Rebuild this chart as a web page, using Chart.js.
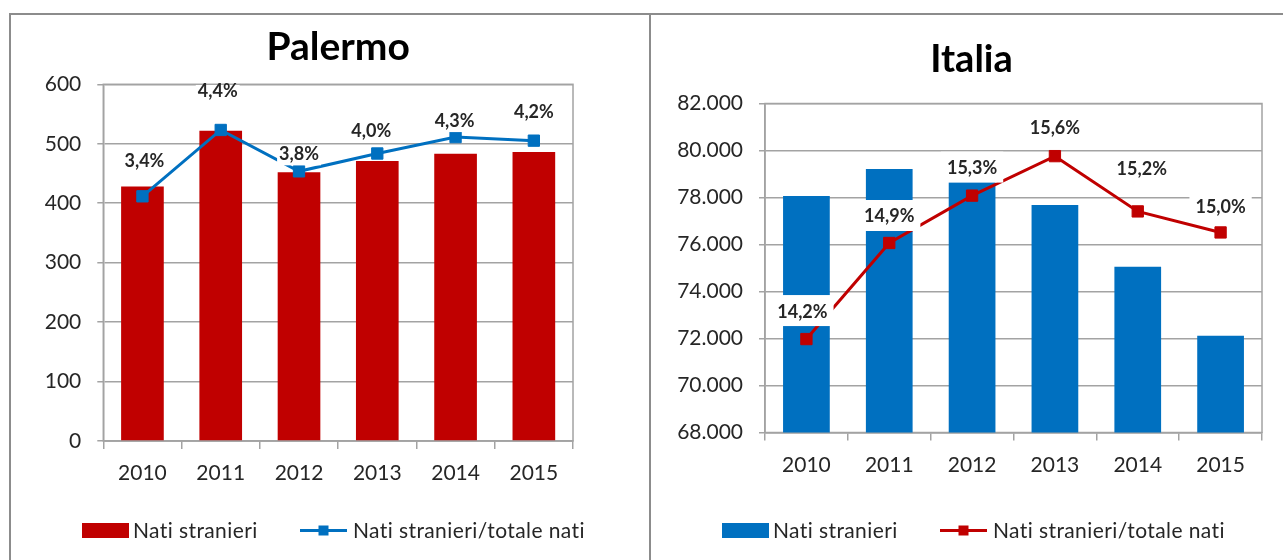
<!DOCTYPE html>
<html><head><meta charset="utf-8">
<script src="https://cdn.jsdelivr.net/npm/chart.js@4/dist/chart.umd.min.js"></script>
<style>
html,body{margin:0;padding:0;background:#fff;overflow:hidden;width:1283px;height:560px;}
.panel{position:absolute;box-sizing:border-box;border:2px solid #8c8c8c;border-bottom:none;}
canvas{position:absolute;}
</style></head><body>
<div class="panel" style="left:9px;top:13px;width:642px;height:600px;"></div>
<div class="panel" style="left:649px;top:13px;width:700px;height:600px;"></div>
<canvas id="cPal" width="652" height="544" style="left:11px;top:16px;width:652px;height:544px"></canvas>
<canvas id="cIta" width="641" height="544" style="left:651px;top:16px;width:641px;height:544px"></canvas>
<script>
// ---- data ----
const years = ['2010', '2011', '2012', '2013', '2014', '2015'];
const palermoBirths = [428, 522, 452, 471, 483, 486];
const palermoShare = [3.43, 4.36, 3.78, 4.03, 4.26, 4.21];
const italiaBirths = [78064, 79213, 78672, 77681, 75055, 72119];
const italiaShare = [14.21, 14.94, 15.30, 15.60, 15.18, 15.02];
const palermoTicks = [0, 100, 200, 300, 400, 500, 600];
const italiaTicks = [68000, 70000, 72000, 74000, 76000, 78000, 80000, 82000];
const seriesNames = ['Nati stranieri', 'Nati stranieri/totale nati'];

// ---- style ----
const FONT = 'Lato, "Open Sans", sans-serif';
const GRID = '#a3a3a3';
const TXT = '#262626';
const RED = '#C00000';
const BLUE = '#0070C0';
Chart.defaults.font.family = FONT;

const fmtPct = v => v.toFixed(1).replace('.', ',') + '%';
const fmtThousands = v => String(v).replace(/\B(?=(\d{3})+(?!\d))/g, '.');

const plotBorder = {
  id: 'plotBorder',
  beforeDatasetsDraw(chart) {
    const a = chart.chartArea, ctx = chart.ctx;
    ctx.save();
    ctx.strokeStyle = GRID; ctx.lineWidth = 1.5;
    ctx.strokeRect(a.left, a.top, a.right - a.left, a.bottom - a.top);
    ctx.restore();
  }
};

const pointLabels = {
  id: 'pointLabels',
  afterDatasetsDraw(chart, args, o) {
    const meta = chart.getDatasetMeta(o.datasetIndex);
    const ds = chart.data.datasets[o.datasetIndex];
    const ctx = chart.ctx;
    ctx.save();
    ctx.font = 'bold ' + o.size + 'px ' + FONT;
    ctx.textAlign = 'center';
    ctx.textBaseline = 'alphabetic';
    meta.data.forEach((pt, i) => {
      const txt = fmtPct(ds.data[i]);
      const cx = pt.x + o.offsets[i][0];
      const cy = pt.y + o.offsets[i][1];
      const w = ctx.measureText(txt).width;
      ctx.fillStyle = '#fff';
      ctx.fillRect(cx - w / 2 - o.padX, cy - o.boxUp, w + 2 * o.padX, o.boxUp + o.boxDown);
      ctx.fillStyle = TXT;
      ctx.fillText(txt, cx, cy + o.size * 0.36);
    });
    ctx.restore();
  }
};

const excelLegend = {
  id: 'excelLegend',
  afterDraw(chart, args, o) {
    const ctx = chart.ctx;
    const barDs = chart.data.datasets[0], lineDs = chart.data.datasets[1];
    ctx.save();
    ctx.font = o.size + 'px ' + FONT;
    ctx.letterSpacing = '0.4px';
    ctx.textAlign = 'left';
    ctx.textBaseline = 'alphabetic';
    const x0 = o.x, cy = o.y;
    ctx.fillStyle = barDs.backgroundColor;
    ctx.fillRect(x0, cy - 7.5, 47, 15);
    ctx.fillStyle = TXT;
    ctx.fillText(barDs.label, x0 + 51, cy + o.size * 0.36);
    const x = x0 + o.second;
    ctx.strokeStyle = lineDs.borderColor; ctx.lineWidth = 3;
    ctx.beginPath(); ctx.moveTo(x, cy); ctx.lineTo(x + 47, cy); ctx.stroke();
    ctx.fillStyle = lineDs.pointBackgroundColor;
    ctx.fillRect(x + 23.5 - 5, cy - 5, 10, 10);
    ctx.fillStyle = TXT;
    ctx.fillText(lineDs.label, x + 53, cy + o.size * 0.36);
    ctx.restore();
  }
};

function makeChart(id, cfg) {
  return new Chart(document.getElementById(id), {
    data: {
      labels: years,
      datasets: [
        { type: 'bar', label: seriesNames[0], data: cfg.bars, backgroundColor: cfg.barColor,
          borderWidth: 0, yAxisID: 'y', order: 2, barPercentage: cfg.barPct, categoryPercentage: 1 },
        { type: 'line', label: seriesNames[1], data: cfg.share, borderColor: cfg.lineColor,
          backgroundColor: cfg.lineColor, pointBackgroundColor: cfg.lineColor, pointBorderColor: cfg.lineColor,
          pointStyle: 'rect', pointRadius: 8, pointBorderWidth: 1, borderWidth: 3, tension: 0,
          yAxisID: 'y1', order: 1 }
      ]
    },
    options: {
      responsive: false, animation: false, events: [], devicePixelRatio: 1,
      layout: { padding: cfg.padding },
      plugins: {
        legend: { display: false }, tooltip: { enabled: false },
        title: { display: true, text: cfg.title, color: '#000', fullSize: cfg.titleFull,
          font: { family: FONT, size: cfg.titleSize, weight: 'bold' }, padding: cfg.titlePad },
        pointLabels: { datasetIndex: 1, size: 18, offsets: cfg.labelOffsets, padX: cfg.labelPadX,
          boxUp: cfg.boxUp, boxDown: cfg.boxDown },
        excelLegend: { x: 71, y: cfg.legendY, size: 21, second: 218 }
      },
      scales: {
        x: {
          offset: true,
          grid: { offset: true, drawOnChartArea: false, drawTicks: true, tickLength: 8, color: GRID, lineWidth: 1.5 },
          border: { display: true, color: GRID, width: 1.5 },
          ticks: { color: TXT, font: { family: FONT, size: 21 }, padding: cfg.xPad, maxRotation: 0 },
          afterFit(s) { s.height = cfg.xHeight; }
        },
        y: {
          min: cfg.ticks[0], max: cfg.ticks[cfg.ticks.length - 1],
          afterBuildTicks(s) { s.ticks = cfg.ticks.map(v => ({ value: v })); },
          grid: { color: GRID, lineWidth: 1.5, drawTicks: true, tickLength: 6 },
          border: { display: true, color: GRID, width: 1.5 },
          ticks: { color: TXT, font: { family: FONT, size: 21 }, padding: 16, callback: cfg.tickFmt },
          afterFit(s) { s.width = cfg.yWidth; }
        },
        y1: {
          display: cfg.y1Width > 0, position: 'right', min: cfg.shareMin, max: cfg.shareMax,
          ticks: { display: false }, grid: { display: false, drawTicks: false }, border: { display: false },
          afterFit(s) { s.width = cfg.y1Width; }
        }
      }
    },
    plugins: [plotBorder, pointLabels, excelLegend]
  });
}

makeChart('cPal', {
  title: 'Palermo', titleSize: 39, titleFull: false, titlePad: { top: 8.1, bottom: 13.4 },
  bars: palermoBirths, share: palermoShare, barColor: RED, lineColor: BLUE, barPct: 0.545,
  ticks: palermoTicks, tickFmt: v => String(v), shareMin: 0, shareMax: 5, y1Width: 0,
  padding: { left: 0, right: 90, top: 0, bottom: 74.4 }, yWidth: 92.3, xHeight: 44.6, xPad: 11.4,
  labelOffsets: [[2, -36], [-3, -39], [0, -18], [-6, -23], [-1, -17], [0, -29]],
  labelPadX: 2, boxUp: 6, boxDown: 12, legendY: 514.5
});

makeChart('cIta', {
  title: 'Italia', titleSize: 38, titleFull: true, titlePad: { top: 20.9, bottom: 21 },
  bars: italiaBirths, share: italiaShare, barColor: BLUE, lineColor: RED, barPct: 0.564,
  ticks: italiaTicks, tickFmt: v => fmtThousands(v), shareMin: 13.5, shareMax: 16, y1Width: 30,
  padding: { left: 0, right: 0, top: 0, bottom: 82.4 }, yWidth: 114, xHeight: 45.1, xPad: 11.9,
  labelOffsets: [[-4, -28], [0, -27], [0, -28], [0, -29], [4, -43], [0, -26]],
  labelPadX: 6, boxUp: 16, boxDown: 15, legendY: 514.5
});
</script>
</body></html>
